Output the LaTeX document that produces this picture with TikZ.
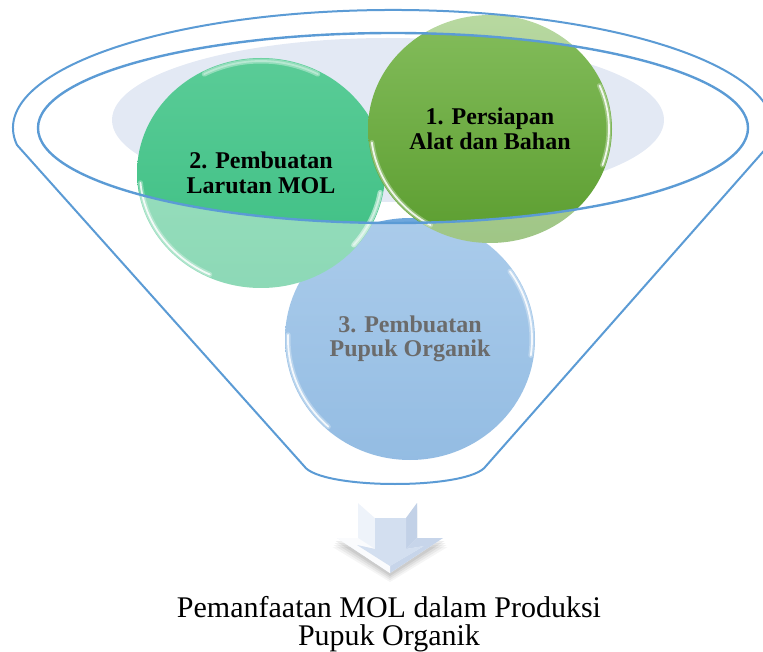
\documentclass[tikz,border=0pt]{standalone}
\usepackage{fontspec}
\setmainfont{Liberation Serif}
\usetikzlibrary{shapes.geometric}
\definecolor{funnelline}{HTML}{5B9BD5}
\definecolor{rimfill}{HTML}{E3E9F4}
\definecolor{gTop}{HTML}{84BD5C}
\definecolor{gBot}{HTML}{5B9D2F}
\definecolor{tTop}{HTML}{5ACC97}
\definecolor{tBot}{HTML}{3BBE82}
\definecolor{bTop}{HTML}{6EA7DD}
\definecolor{bBot}{HTML}{478DCF}
\definecolor{arrowface}{HTML}{D3DFF0}
\definecolor{arrowrim}{HTML}{EEF3FA}
\definecolor{arrowdark}{HTML}{C2D1E7}
\begin{document}
\begin{tikzpicture}[x=1pt,y=-1pt,
  ball/.style={ellipse, inner sep=0pt, align=center,
    font=\bfseries\fontsize{24}{24.5}\selectfont, text=black},
  hlsoft/.style={white, line width=5pt, opacity=0.3, line cap=round},
  hl/.style={white, line width=1.8pt, opacity=0.85, line cap=round},
  funnelstroke/.style={draw=funnelline, line width=2pt},
  caption/.style={align=center, font=\fontsize{30}{28}\selectfont}]
\useasboundingbox (0,0) rectangle (763,652);
% pale disc inside the rim
\fill[rimfill] (388,120) ellipse[x radius=276pt, y radius=82pt];
% the three balls
\node[ball, minimum width=250pt, minimum height=242pt, top color=bTop, bottom color=bBot]
  (c3) at (410,339) {3. Pembuatan\\Pupuk Organik};
\node[ball, minimum width=248pt, minimum height=230pt, top color=tTop, bottom color=tBot]
  (c2) at (261,173) {2. Pembuatan\\Larutan MOL};
\node[ball, minimum width=244pt, minimum height=228pt, top color=gTop, bottom color=gBot]
  (c1) at (490,129) {1. Persiapan\\Alat dan Bahan};
% glossy highlights
\foreach \st in {hlsoft,hl}{
  \draw[\st] (c3.center) ++(178:122pt and 118pt) arc[start angle=178, end angle=228, x radius=122pt, y radius=118pt];
  \draw[\st] (c3.center) ++(-8:122pt and 118pt) arc[start angle=-8, end angle=35, x radius=122pt, y radius=118pt];
  \draw[\st] (c2.center) ++(185:121pt and 112pt) arc[start angle=185, end angle=245, x radius=121pt, y radius=112pt];
  \draw[\st, opacity=0.35] (c2.center) ++(62:121pt and 112pt) arc[start angle=62, end angle=118, x radius=121pt, y radius=112pt];
  \draw[\st, opacity=0.5] (c2.center) ++(-40:121pt and 112pt) arc[start angle=-40, end angle=-10, x radius=121pt, y radius=112pt];
  \draw[\st] (c1.center) ++(187:119pt and 111pt) arc[start angle=187, end angle=240, x radius=119pt, y radius=111pt];
  \draw[\st] (c1.center) ++(-19:119pt and 111pt) arc[start angle=-19, end angle=23, x radius=119pt, y radius=111pt];
}
% glassy veil outside the rim
\fill[white, fill opacity=0.42, even odd rule] (0,0) rectangle (763,500)
  (393,128) ellipse[x radius=355pt, y radius=95pt];
% funnel outline and rim
\draw[funnelstroke, line join=round] (17,145) arc[start angle=188.3, end angle=-8.3, x radius=380pt, y radius=118pt]
  -- (486,466) .. controls (470,490) and (320,490) .. (304,466) -- cycle;
\draw[funnelstroke, line width=2.4pt] (393,128) ellipse[x radius=355pt, y radius=95pt];
% down arrow: soft shadow
\foreach \d/\o in {3/0.07,5/0.06,7/0.05,9/0.04}{
  \fill[black, opacity=\o] (358,{503+\d}) -- (417,{503+\d}) -- (417,{538+\d}) -- ({443+\d/2},{538+\d}) -- (390,{573+\d}) -- ({337-\d/2},{538+\d}) -- (358,{538+\d}) -- cycle;
}
% down arrow: body and bevels
\fill[arrowrim] (358,503) -- (417,503) -- (417,538) -- (443,538) -- (390,573) -- (337,538) -- (358,538) -- cycle;
\fill[white] (358,503) -- (417,503) -- (406,518) -- (375,518) -- cycle;
\fill[arrowdark] (417,503) -- (417,538) -- (406,549) -- (406,518) -- cycle;
\fill[arrowdark!70!arrowface] (417,538) -- (443,538) -- (390,573) -- (390,566) -- (424,546) -- (406,549) -- cycle;
\fill[white!70!arrowrim] (358,538) -- (337,538) -- (390,573) -- (390,566) -- (357,545) -- (375,549) -- cycle;
\fill[arrowface] (375,518) -- (406,518) -- (406,549) -- (424,546) -- (390,566) -- (357,545) -- (375,549) -- cycle;
% caption
\node[caption] (res) at (389,624) {Pemanfaatan MOL dalam Produksi\\Pupuk Organik};
\end{tikzpicture}
\end{document}
